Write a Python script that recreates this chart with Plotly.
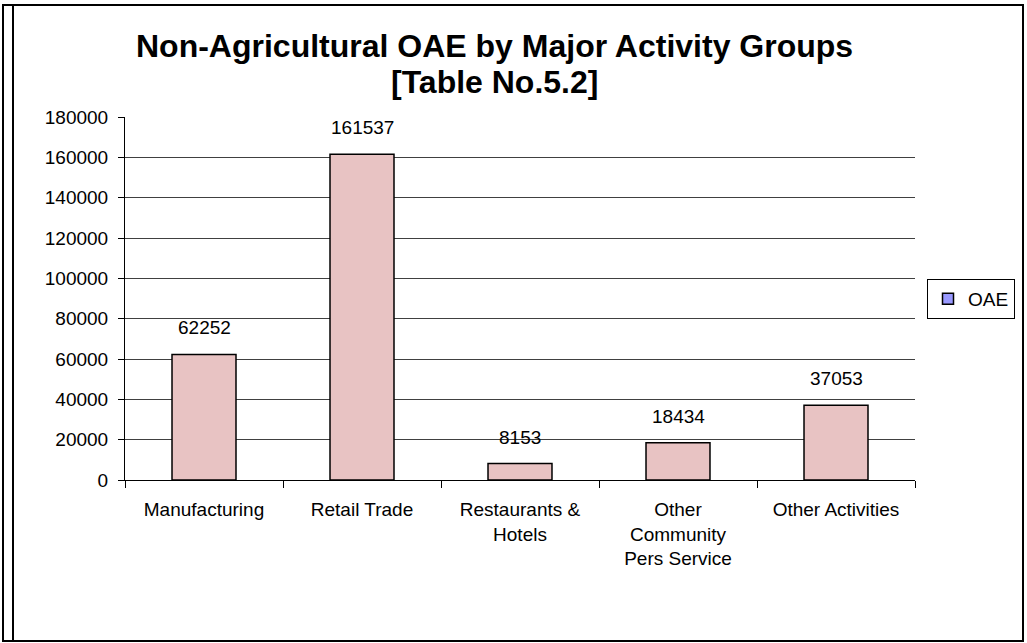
import plotly.graph_objects as go

categories = ["Manufacturing", "Retail Trade", "Restaurants &<br>Hotels",
              "Other<br>Community<br>Pers Service", "Other Activities"]
values = [62252, 161537, 8153, 18434, 37053]
series_name = "OAE"
y_ticks = list(range(0, 180001, 20000))
title_lines = ["Non-Agricultural OAE by Major Activity Groups", "[Table No.5.2]"]

W, H = 1027, 643
L, R, T, B = 125, 915, 117, 480  # plot area pixel bounds


def px(x):
    return (x - L) / (R - L)


def py(y):
    return (B - y) / (B - T)


FONT = "Liberation Sans, Arial, sans-serif"

fig = go.Figure()
fig.add_trace(go.Bar(
    x=categories, y=values, width=0.405,
    marker=dict(color="#E8C3C3", line=dict(color="black", width=1.5)),
    showlegend=False, name=series_name,
))
fig.add_trace(go.Scatter(
    x=[None], y=[None], mode="markers", name=series_name,
    marker=dict(symbol="square", size=11, color="#9999FF",
                line=dict(color="black", width=1.5)),
))

for c, v in zip(categories, values):
    fig.add_annotation(x=c, y=v, text=str(v), showarrow=False,
                       yanchor="bottom", yshift=14,
                       font=dict(family=FONT, size=19, color="black"))

for line, yc in zip(title_lines, [46, 82]):
    fig.add_annotation(xref="paper", yref="paper", x=px(494), y=py(yc),
                       xanchor="center", yanchor="middle", showarrow=False,
                       text="<b>" + line + "</b>",
                       font=dict(family=FONT, size=32, color="black"))

shapes = [
    dict(type="rect", xref="paper", yref="paper",
         x0=px(3), x1=px(1023), y0=py(641), y1=py(5),
         line=dict(color="black", width=2)),
    dict(type="line", xref="paper", yref="paper",
         x0=px(13), x1=px(13), y0=py(641), y1=py(5),
         line=dict(color="black", width=2)),
]

fig.update_layout(
    width=W, height=H, autosize=False,
    margin=dict(l=L, r=W - R, t=T, b=H - B, pad=0),
    paper_bgcolor="white", plot_bgcolor="white",
    font=dict(family=FONT, size=19, color="black"),
    xaxis=dict(type="category", tickson="boundaries", ticks="outside",
               ticklen=7, tickcolor="black", showline=True, linecolor="black",
               linewidth=1, showgrid=False, ticklabelstandoff=12,
               tickfont=dict(size=19)),
    yaxis=dict(range=[0, 180000], tickvals=y_ticks,
               ticktext=[str(t) for t in y_ticks],
               ticks="outside", ticklen=6, tickcolor="black",
               showline=True, linecolor="black", linewidth=1,
               showgrid=True, gridcolor="#404040", gridwidth=1,
               zeroline=False, ticklabelstandoff=6, tickfont=dict(size=19)),
    legend=dict(x=px(1015), xanchor="right", y=py(279), yanchor="top",
                bordercolor="black", borderwidth=1, bgcolor="white",
                font=dict(size=19), itemwidth=30),
    shapes=shapes,
)

fig.write_html("out.html",
               config={"responsive": False, "displayModeBar": False},
               post_script="document.body.style.margin='0';document.body.style.overflow='hidden';")
